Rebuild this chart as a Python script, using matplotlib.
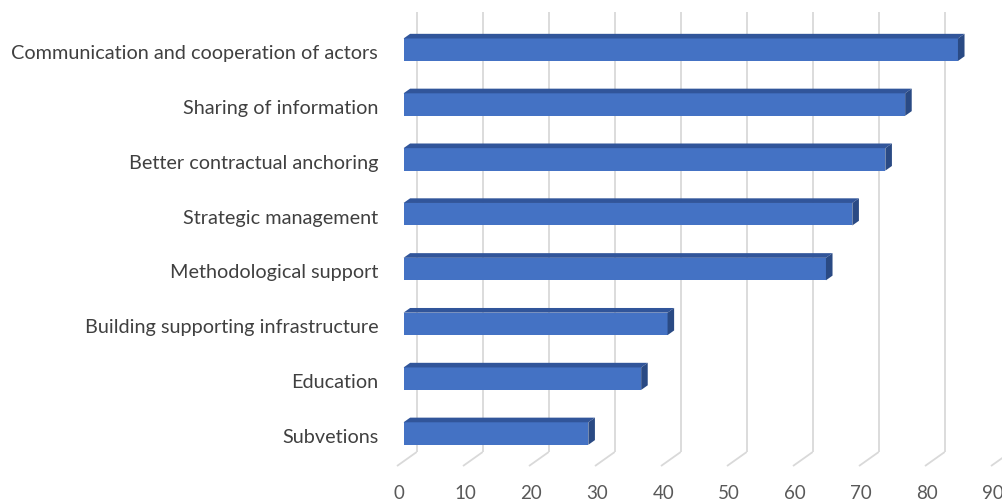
import matplotlib
matplotlib.use("Agg")
import matplotlib.pyplot as plt

# Survey results: share of respondents per measure (%)
categories = [
    "Communication and cooperation of actors",
    "Sharing of information",
    "Better contractual anchoring",
    "Strategic management",
    "Methodological support",
    "Building supporting infrastructure",
    "Education",
    "Subvetions",
]
values = [84, 76, 73, 68, 64, 40, 36, 28]
x_ticks = list(range(0, 100, 10))

plt.rcParams["font.family"] = ["Lato", "DejaVu Sans"]

FRONT = "#4472C4"
TOP = "#31559A"
SIDE = "#2A4A84"
GRID = "#D9D9D9"

# pseudo-3D geometry (data units): full floor depth and bar slab inside it
DX, DY = 2.985, 0.255
D0, D1 = 1 / 3, 2 / 3
BAR_H = 0.41
FLOOR = 7.507
WALL_TOP = -0.779

fig = plt.figure(figsize=(10.03, 5.04), dpi=100)
ax = fig.add_axes([0, 0, 1, 1])
ax.set_xlim(-60.15, 91.82)
ax.set_ylim(8.2, -0.992)
ax.axis("off")

# back wall gridlines with the slanted floor segments
for t in x_ticks:
    ax.plot([t, t + DX], [FLOOR, FLOOR - DY], color=GRID, lw=1.3, zorder=1,
            solid_capstyle="butt")
    ax.plot([t + DX, t + DX], [FLOOR - DY, WALL_TOP], color=GRID, lw=1.3,
            zorder=1, solid_capstyle="butt")
    ax.text(t + 0.35, 8.0, str(t), ha="center", va="center", fontsize=13.5,
            color="#595959")

sx, sy = DX * (D1 - D0), DY * (D1 - D0)
for i, (name, v) in enumerate(zip(categories, values)):
    yc = i - DY * D0
    x0 = DX * D0
    top, bot = yc - BAR_H / 2, yc + BAR_H / 2
    ax.barh(yc, v, left=x0, height=BAR_H, color=FRONT, zorder=3)
    ax.fill([x0, x0 + v, x0 + v + sx, x0 + sx],
            [top, top, top - sy, top - sy], color=TOP, zorder=3, lw=0)
    ax.fill([x0 + v, x0 + v, x0 + v + sx, x0 + v + sx],
            [top, bot, bot - sy, top - sy], color=SIDE, zorder=3, lw=0)
    ax.text(-2.85, yc + 0.07, name, ha="right", va="center", fontsize=14.3,
            color="#404040")

fig.savefig("out.png", dpi=100)
